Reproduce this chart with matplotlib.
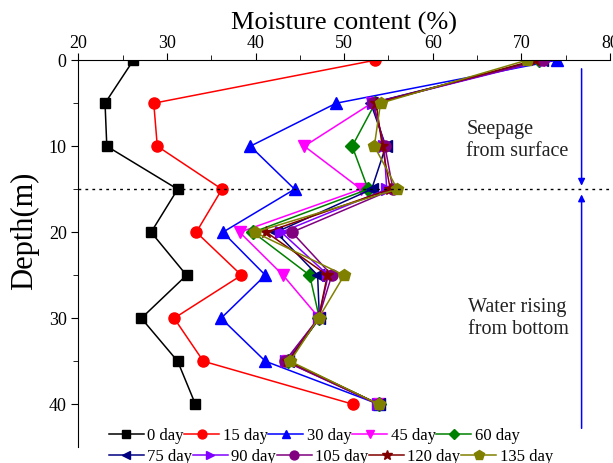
import numpy as np
import matplotlib.pyplot as plt

plt.rcParams['font.family'] = ['Liberation Serif', 'DejaVu Serif']

depth = [0, 5, 10, 15, 20, 25, 30, 35, 40]

labels = ['0 day', '15 day', '30 day', '45 day', '60 day',
          '75 day', '90 day', '105 day', '120 day', '135 day']

# moisture content (%) per depth
d0 = [26.2, 23.0, 23.2, 31.2, 28.2, 32.2, 27.1, 31.2, 33.2]
d15 = [53.5, 28.5, 28.9, 36.2, 33.3, 38.4, 30.8, 34.1, 51.0]
d30 = [74.0, 49.1, 39.4, 44.4, 36.3, 41.1, 36.1, 41.1, 53.9]
d45 = [72.5, 53.1, 45.5, 51.9, 38.2, 43.1, 47.2, 43.6, 53.9]
d60 = [72.0, 53.5, 50.9, 52.7, 39.7, 46.1, 47.2, 43.7, 53.9]
d75 = [72.3, 53.0, 54.7, 53.1, 42.3, 47.0, 47.2, 43.6, 53.9]
d90 = [72.7, 53.3, 54.5, 54.8, 42.9, 48.2, 47.1, 43.4, 53.8]
d105 = [72.4, 53.2, 54.6, 55.5, 44.1, 48.6, 47.1, 43.3, 53.9]
d120 = [71.5, 53.6, 54.3, 55.2, 41.2, 48.1, 47.1, 43.7, 53.9]
d135 = [70.6, 54.1, 53.4, 56.0, 39.9, 50.0, 47.1, 43.9, 53.9]

series = [d0, d15, d30, d45, d60, d75, d90, d105, d120, d135]
colors = ['black', 'red', 'blue', 'magenta', 'green',
          'navy', '#8000ff', '#800080', '#800000', '#808000']
markers = ['s', 'o', '^', 'v', 'D', '<', '>', 'o', '*', 'p']
msizes = [7, 8, 8, 8, 7, 8, 8, 8, 9, 9]

fig = plt.figure(figsize=(6.13, 4.63), dpi=100)
ax = fig.add_axes([0.128, 0.034, 0.867, 0.836])

handles = []
for vals, lab, c, m, ms in zip(series, labels, colors, markers, msizes):
    h, = ax.plot(vals, depth, color=c, marker=m, markersize=ms, linewidth=1.1,
                 label=lab)
    handles.append(h)

ax.axhline(15, color='black', linestyle=(0, (2, 3)), linewidth=1)

ax.set_xlim(20, 80)
ax.set_ylim(45, 0)
ax.xaxis.tick_top()
ax.xaxis.set_label_position('top')
ax.set_xticks(np.arange(20, 81, 10))
ax.set_xticks(np.arange(25, 80, 10), minor=True)
ax.set_yticks([0, 10, 20, 30, 40])
ax.set_yticks([5, 15, 25, 35], minor=True)
ax.tick_params(which='major', direction='out', length=5, labelsize=13)
ax.tick_params(axis='x', which='major', pad=1)
ax.tick_params(which='minor', direction='out', length=3.5)
ax.spines['right'].set_visible(False)
ax.spines['bottom'].set_visible(False)

ax.set_xlabel('Moisture content (%)', fontsize=19, labelpad=4)
ax.set_ylabel('Depth(m)', fontsize=22)
ax.yaxis.set_label_coords(-0.075, 0.56)

# arrows
ax.annotate('', xy=(76.8, 14.6), xytext=(76.8, 1.0),
            arrowprops=dict(arrowstyle='-|>', color='blue', lw=1.1,
                            mutation_scale=10, shrinkA=0, shrinkB=0))
ax.annotate('', xy=(76.8, 15.6), xytext=(76.8, 42.8),
            arrowprops=dict(arrowstyle='-|>', color='blue', lw=1.1,
                            mutation_scale=10, shrinkA=0, shrinkB=0))
ax.text(63.8, 9.3, 'Seepage\nfrom surface', fontsize=14.5, va='center',
        ha='left', color='#222222', linespacing=1.2)
ax.text(64.0, 30.0, 'Water rising\nfrom bottom', fontsize=14.5, va='center',
        ha='left', color='#222222', linespacing=1.2)

# legend: two free-flowing rows
leg_kw = dict(loc='center left', ncol=5, frameon=False, fontsize=12,
              handlelength=2.1, handletextpad=0.2, columnspacing=0.05,
              borderaxespad=0, borderpad=0, markerscale=0.8)
fig.legend(handles[:5], labels[:5], bbox_to_anchor=(0.177, 0.059), **leg_kw)
fig.legend(handles[5:], labels[5:], bbox_to_anchor=(0.177, 0.014), **leg_kw)

fig.savefig('out.png', dpi=100)
